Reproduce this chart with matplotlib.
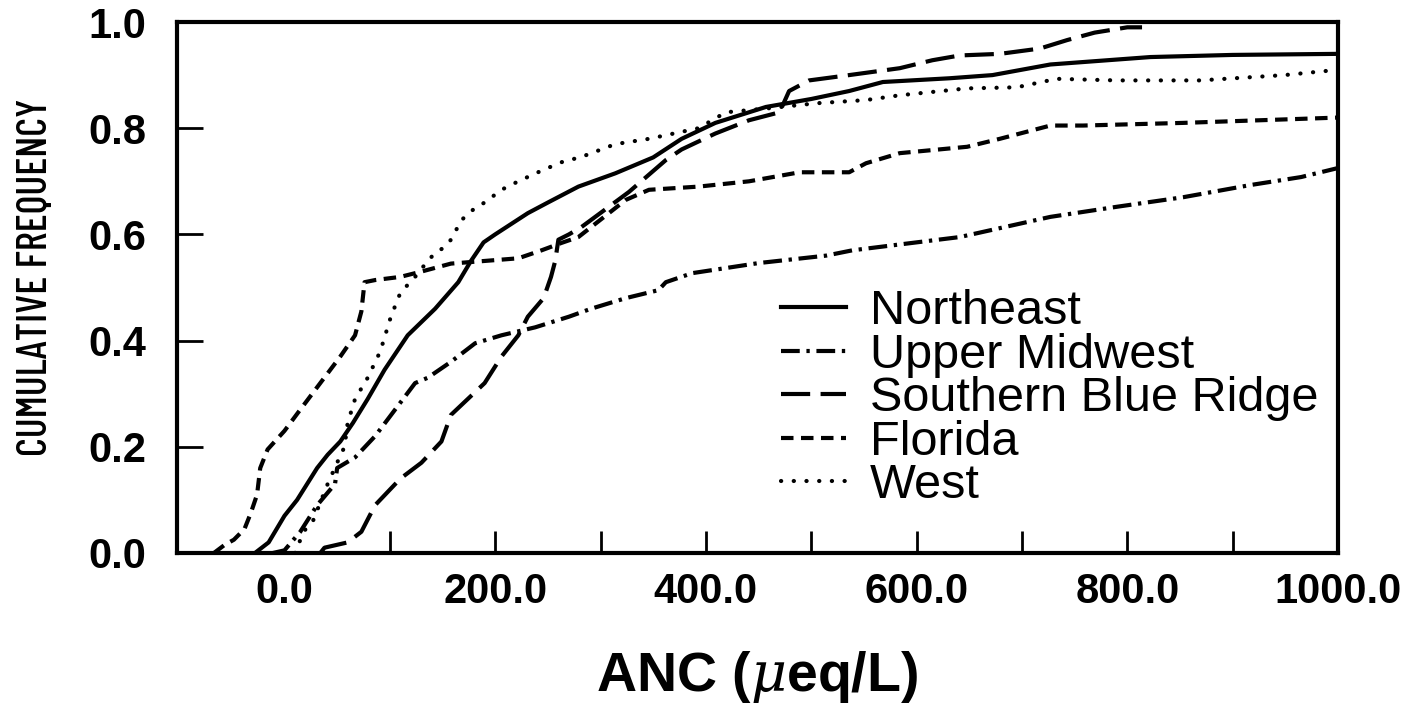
import matplotlib
matplotlib.use("Agg")
import matplotlib.pyplot as plt
from matplotlib.ticker import FixedLocator

plt.rcParams['font.family'] = ['Liberation Sans', 'DejaVu Sans']
plt.rcParams['mathtext.fontset'] = 'custom'
plt.rcParams['mathtext.it'] = 'DejaVu Serif:italic'

# ---------------- data ----------------
ne_x = [-28, -15, 0, 12, 31, 41, 53, 65, 79, 95, 117, 143, 165, 177, 189, 200, 231, 250, 279, 314,
        350, 377, 409, 457, 500, 536, 568, 631, 672, 727, 822, 900, 1000]
ne_y = [0, 0.02, 0.07, 0.10, 0.16, 0.185, 0.21, 0.245, 0.29, 0.345, 0.41, 0.46, 0.51, 0.55, 0.585,
        0.60, 0.64, 0.66, 0.69, 0.715, 0.745, 0.78, 0.81, 0.84, 0.855, 0.87, 0.887, 0.894, 0.90,
        0.92, 0.934, 0.938, 0.94]

um_x = [-11, 0, 15, 31, 48, 50, 67, 86, 105, 124, 136, 158, 181, 206, 238, 270, 291, 324, 355, 362,
        387, 450, 514, 539, 600, 641, 727, 790, 853, 917, 965, 1000]
um_y = [0, 0.005, 0.04, 0.09, 0.13, 0.16, 0.18, 0.22, 0.27, 0.32, 0.33, 0.36, 0.395, 0.41, 0.425,
        0.445, 0.46, 0.48, 0.495, 0.51, 0.527, 0.546, 0.56, 0.57, 0.585, 0.595, 0.633, 0.652, 0.67,
        0.693, 0.708, 0.725]

sbr_x = [34, 38, 60, 73, 86, 110, 130, 149, 158, 174, 190, 206, 222, 231, 246, 253, 257, 260, 270,
         282, 327, 362, 377, 409, 441, 470, 479, 498, 536, 584, 615, 641, 679, 717, 743, 769, 800, 814]
sbr_y = [0, 0.01, 0.02, 0.04, 0.09, 0.14, 0.17, 0.21, 0.26, 0.29, 0.32, 0.37, 0.41, 0.445, 0.48,
         0.52, 0.55, 0.59, 0.60, 0.614, 0.68, 0.74, 0.76, 0.79, 0.815, 0.83, 0.87, 0.89, 0.90, 0.913,
         0.928, 0.937, 0.94, 0.95, 0.966, 0.98, 0.99, 0.99]

fl_x = [-67, -57, -48, -38, -32, -26, -23, -16, 0, 15, 34, 53, 67, 73, 76, 86, 110, 130, 158, 190,
        222, 244, 263, 279, 324, 346, 393, 441, 489, 536, 552, 584, 648, 679, 727, 758, 853, 1000]
fl_y = [0, 0.015, 0.025, 0.045, 0.075, 0.11, 0.16, 0.195, 0.23, 0.27, 0.32, 0.37, 0.41, 0.455, 0.51,
        0.514, 0.52, 0.53, 0.545, 0.55, 0.555, 0.57, 0.584, 0.595, 0.665, 0.684, 0.69, 0.70, 0.717,
        0.717, 0.734, 0.753, 0.765, 0.78, 0.805, 0.805, 0.81, 0.82]

we_x = [10, 14, 20, 27, 30, 41, 50, 57, 60, 67, 79, 91, 101, 110, 124, 136, 143, 152, 158, 168, 181,
        190, 206, 222, 244, 263, 282, 314, 346, 393, 419, 457, 505, 552, 584, 648, 695, 733, 790,
        869, 949, 1000]
we_y = [0, 0.02, 0.045, 0.06, 0.075, 0.13, 0.17, 0.2, 0.245, 0.29, 0.33, 0.38, 0.445, 0.49, 0.52,
        0.55, 0.565, 0.576, 0.59, 0.627, 0.65, 0.66, 0.684, 0.70, 0.72, 0.736, 0.746, 0.77, 0.78,
        0.80, 0.83, 0.837, 0.847, 0.853, 0.862, 0.875, 0.877, 0.893, 0.89, 0.89, 0.90, 0.91]

series_names = ["Northeast", "Upper Midwest", "Southern Blue Ridge", "Florida", "West"]
x_tick_values = [0, 200, 400, 600, 800, 1000]
x_tick_labels = ["0.0", "200.0", "400.0", "600.0", "800.0", "1000.0"]
x_minor_values = [100, 200, 300, 400, 500, 600, 700, 800, 900]
y_tick_values = [0.0, 0.2, 0.4, 0.6, 0.8, 1.0]
y_tick_labels = ["0.0", "0.2", "0.4", "0.6", "0.8", "1.0"]

# ---------------- figure ----------------
fig = plt.figure(figsize=(14.12, 7.24), dpi=100)
ax = fig.add_axes([177 / 1412, 1 - 553 / 724, (1338 - 177) / 1412, (553 - 22) / 724])

lw = 3.0
styles = [
    dict(linestyle='-'),
    dict(linestyle=(0, (4.5, 1.6, 0.8, 1.6))),
    dict(linestyle=(0, (7, 2.5))),
    dict(linestyle=(0, (3, 1.8))),
    dict(linestyle=(0, (0.05, 3.0)), dash_capstyle='round'),
]
data = [(ne_x, ne_y), (um_x, um_y), (sbr_x, sbr_y), (fl_x, fl_y), (we_x, we_y)]
for (xs, ys), st, name in zip(data, styles, series_names):
    ax.plot(xs, ys, color='black', lw=lw, label=name, **st)

ax.set_xlim(-102, 1000)
ax.set_ylim(0, 1.0)

for sp in ax.spines.values():
    sp.set_linewidth(3.0)

ax.xaxis.remove_overlapping_locs = False
ax.set_xticks(x_tick_values)
ax.set_xticklabels(x_tick_labels, fontsize=30, fontweight='bold')
ax.xaxis.set_minor_locator(FixedLocator(x_minor_values))
ax.tick_params(axis='x', which='major', length=0, pad=14)
ax.tick_params(axis='x', which='minor', direction='in', length=16, width=2)

ax.set_yticks(y_tick_values)
ax.set_yticklabels(y_tick_labels, fontsize=30, fontweight='bold')
ax.tick_params(axis='y', which='major', direction='in', length=19, width=2, pad=22)

ax.set_xlabel(r"ANC ($\mu$eq/L)", fontsize=40, fontweight='bold', labelpad=26)
ax.set_ylabel("CUMULATIVE FREQUENCY", fontsize=30, fontweight='medium',
              family=['Barlow Condensed', 'Asap Condensed', 'DejaVu Sans'])
ax.yaxis.set_label_coords(-0.105, 0.52)

leg = ax.legend(loc='upper left', bbox_to_anchor=(0.52, 0.497), frameon=False,
                fontsize=35, handlelength=1.35, handletextpad=0.48, labelspacing=-0.03,
                borderpad=0, borderaxespad=0)

fig.savefig("out.png", dpi=100)
